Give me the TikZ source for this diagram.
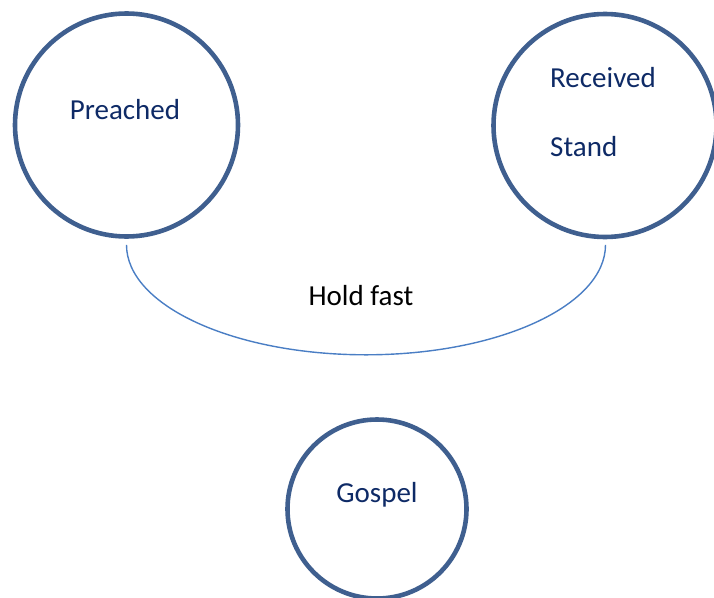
\documentclass[tikz,border=0pt]{standalone}
\usepackage{fontspec}
\setmainfont{Carlito}
\usepackage{tikz}
\usetikzlibrary{positioning}
\definecolor{ringcol}{HTML}{3F5F8F}
\definecolor{wordcol}{HTML}{0E2A66}
\definecolor{holdcol}{HTML}{4A7EC4}

\begin{document}
\begin{tikzpicture}[x=1pt,y=1pt,
    ring/.style={draw=ringcol,line width=4.6pt,circle,inner sep=0pt},
    word/.style={text=wordcol,font=\fontsize{29}{35}\selectfont,inner sep=0pt},
    holdline/.style={draw=holdcol,line width=1.4pt}]
  \useasboundingbox (0,0) rectangle (714,-597);
  \clip (0,0) rectangle (714,-597);
  \node[ring,minimum size=223pt] (pre) at (126.5,-125) {};
  \node[ring,minimum size=223pt] (rec) at (605,-125.5) {};
  \node[ring,minimum size=179pt] (gos) at (377,-509) {};
  \node[word,anchor=base] (pret) at (125,-119) {Preached};
  \node[word,anchor=base west] (rect) at (550,-87) {Received};
  \node[word,anchor=base west] (stat) at (550,-156) {Stand};
  \node[word,anchor=base] (gost) at (377,-502) {Gospel};
  % hold fast link
  \draw[holdline] ([yshift=-6pt]pre.south) arc[start angle=180,end angle=360,x radius=239.5,y radius=110];
  \node[font=\fontsize{29}{35}\selectfont,anchor=base,inner sep=0pt] (hold) at (361,-305) {Hold fast};
\end{tikzpicture}
\end{document}
